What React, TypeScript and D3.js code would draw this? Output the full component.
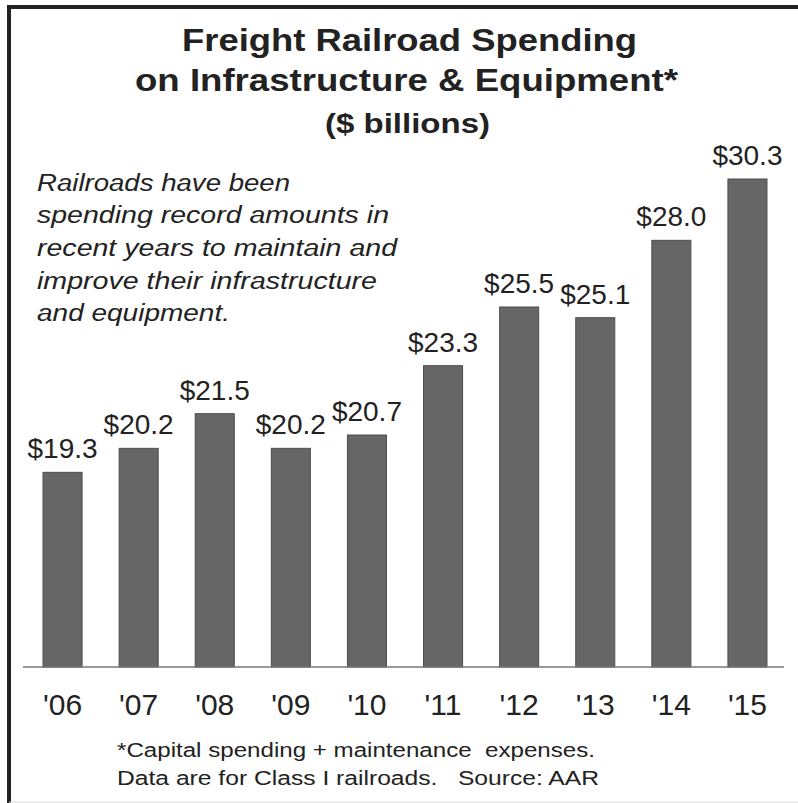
import React from "react";
import * as d3 from "d3";

const years = ["'06", "'07", "'08", "'09", "'10", "'11", "'12", "'13", "'14", "'15"];
const spending = [19.3, 20.2, 21.5, 20.2, 20.7, 23.3, 25.5, 25.1, 28.0, 30.3];
const valueLabels = ["$19.3", "$20.2", "$21.5", "$20.2", "$20.7", "$23.3", "$25.5", "$25.1", "$28.0", "$30.3"];
const titleLines = ["Freight Railroad Spending", "on Infrastructure & Equipment*", "($ billions)"];
const noteLines = [
  "Railroads have been",
  "spending record amounts in",
  "recent years to maintain and",
  "improve their infrastructure",
  "and equipment.",
];
const footLines = [
  "*Capital spending + maintenance  expenses.",
  "Data are for Class I railroads.   Source: AAR",
];

const W = 798;
const H = 803;
const FONT = "Liberation Sans, Arial, Helvetica, sans-serif";

export default function App() {
  const x = d3.scaleBand<string>().domain(years).range([24, 786]).paddingInner(0.487).paddingOuter(0.25);
  const y = d3.scaleLinear().domain([12, 30.3]).range([667, 179]);

  const titleCfg = [
    { cx: 409.5, y: 51, len: 455, size: 32 },
    { cx: 406.5, y: 91, len: 543, size: 32 },
    { cx: 407.5, y: 133, len: 165, size: 28 },
  ];
  const noteCfg = [
    { y: 191, len: 253 },
    { y: 223, len: 352 },
    { y: 256, len: 360 },
    { y: 288.5, len: 340 },
    { y: 321, len: 193 },
  ];
  const footCfg = [
    { y: 757, len: 478 },
    { y: 785, len: 482 },
  ];

  return (
    <svg width={W} height={H} style={{ position: "absolute", left: 0, top: 0, background: "#fff" }}>
      <rect x={0} y={0} width={W} height={H} fill="#fff" />
      {/* frame */}
      <line x1={7} y1={7} x2={W} y2={7} stroke="#222" strokeWidth={4} />
      <line x1={9} y1={5} x2={9} y2={H} stroke="#222" strokeWidth={4} />
      <line x1={9} y1={802} x2={W} y2={802} stroke="#ddd" strokeWidth={1} />

      {/* title */}
      {titleLines.map((t, i) => (
        <text
          key={t}
          x={titleCfg[i].cx}
          y={titleCfg[i].y}
          textAnchor="middle"
          fontFamily={FONT}
          fontWeight="bold"
          fontSize={titleCfg[i].size}
          fill="#222"
          textLength={titleCfg[i].len}
          lengthAdjust="spacingAndGlyphs"
        >
          {t}
        </text>
      ))}

      {/* annotation */}
      {noteLines.map((t, i) => (
        <text
          key={t}
          x={37}
          y={noteCfg[i].y}
          fontFamily={FONT}
          fontStyle="italic"
          fontSize={23}
          fill="#222"
          textLength={noteCfg[i].len}
          lengthAdjust="spacingAndGlyphs"
        >
          {t}
        </text>
      ))}

      {/* bars */}
      {spending.map((v, i) => (
        <rect
          key={years[i]}
          x={x(years[i])!}
          y={y(v)}
          width={x.bandwidth()}
          height={y(12) - y(v)}
          fill="#666666"
          stroke="#4d4d4d"
          strokeWidth={1}
        />
      ))}

      {/* baseline */}
      <line x1={23} x2={784} y1={y(12)} y2={y(12)} stroke="#777" strokeWidth={1.5} />

      {/* value labels */}
      {spending.map((v, i) => (
        <text
          key={"v" + i}
          x={x(years[i])! + x.bandwidth() / 2}
          y={y(v) - 14}
          textAnchor="middle"
          fontFamily={FONT}
          fontSize={28}
          fill="#222"
        >
          {valueLabels[i]}
        </text>
      ))}

      {/* year labels */}
      {years.map((yr) => (
        <text
          key={"y" + yr}
          x={x(yr)! + x.bandwidth() / 2}
          y={715}
          textAnchor="middle"
          fontFamily={FONT}
          fontSize={30}
          fill="#222"
        >
          {yr}
        </text>
      ))}

      {/* footnote */}
      {footLines.map((t, i) => (
        <text
          key={t}
          x={117}
          y={footCfg[i].y}
          fontFamily={FONT}
          fontSize={19.5}
          fill="#222"
          textLength={footCfg[i].len}
          lengthAdjust="spacingAndGlyphs"
          style={{ whiteSpace: "pre" }}
        >
          {t}
        </text>
      ))}
    </svg>
  );
}
